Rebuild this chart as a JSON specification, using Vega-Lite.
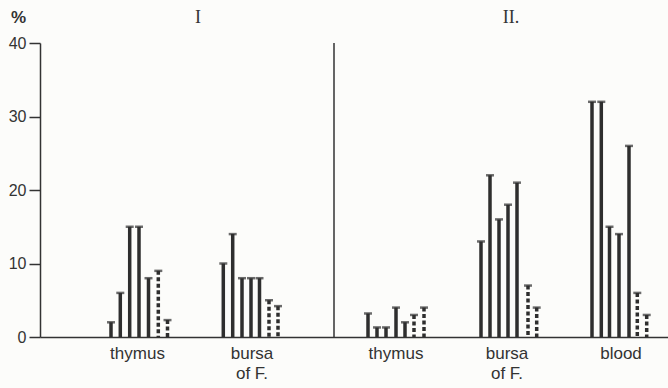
{
  "$schema": "https://vega.github.io/schema/vega-lite/v6.json",
  "width": 628,
  "height": 294,
  "autosize": "none",
  "padding": {"left": 40, "top": 43, "right": 0, "bottom": 51},
  "background": "#fcfcfa",
  "config": {
    "view": {"stroke": null},
    "font": "Liberation Sans"
  },
  "datasets": {
    "bars": [
      {"group": "thymus I", "pos": 71, "value": 2, "style": "solid"},
      {"group": "thymus I", "pos": 80.3, "value": 6, "style": "solid"},
      {"group": "thymus I", "pos": 89.7, "value": 15, "style": "solid"},
      {"group": "thymus I", "pos": 99, "value": 15, "style": "solid"},
      {"group": "thymus I", "pos": 108.5, "value": 8, "style": "solid"},
      {"group": "thymus I", "pos": 118.3, "value": 9, "style": "dashed"},
      {"group": "thymus I", "pos": 127.5, "value": 2.3, "style": "dashed"},
      {"group": "bursa I", "pos": 183.3, "value": 10, "style": "solid"},
      {"group": "bursa I", "pos": 192.7, "value": 14, "style": "solid"},
      {"group": "bursa I", "pos": 202, "value": 8, "style": "solid"},
      {"group": "bursa I", "pos": 211, "value": 8, "style": "solid"},
      {"group": "bursa I", "pos": 219.5, "value": 8, "style": "solid"},
      {"group": "bursa I", "pos": 229, "value": 5, "style": "dashed"},
      {"group": "bursa I", "pos": 238, "value": 4.2, "style": "dashed"},
      {"group": "thymus II", "pos": 328, "value": 3.2, "style": "solid"},
      {"group": "thymus II", "pos": 337, "value": 1.3, "style": "solid"},
      {"group": "thymus II", "pos": 346, "value": 1.3, "style": "solid"},
      {"group": "thymus II", "pos": 356, "value": 4, "style": "solid"},
      {"group": "thymus II", "pos": 365, "value": 2, "style": "solid"},
      {"group": "thymus II", "pos": 374, "value": 3, "style": "dashed"},
      {"group": "thymus II", "pos": 384, "value": 4, "style": "dashed"},
      {"group": "bursa II", "pos": 441, "value": 13, "style": "solid"},
      {"group": "bursa II", "pos": 450, "value": 22, "style": "solid"},
      {"group": "bursa II", "pos": 459, "value": 16, "style": "solid"},
      {"group": "bursa II", "pos": 468, "value": 18, "style": "solid"},
      {"group": "bursa II", "pos": 477, "value": 21, "style": "solid"},
      {"group": "bursa II", "pos": 488, "value": 7, "style": "dashed"},
      {"group": "bursa II", "pos": 496.7, "value": 4, "style": "dashed"},
      {"group": "blood II", "pos": 552, "value": 32, "style": "solid"},
      {"group": "blood II", "pos": 561.3, "value": 32, "style": "solid"},
      {"group": "blood II", "pos": 569.5, "value": 15, "style": "solid"},
      {"group": "blood II", "pos": 579, "value": 14, "style": "solid"},
      {"group": "blood II", "pos": 589, "value": 26, "style": "solid"},
      {"group": "blood II", "pos": 597.3, "value": 6, "style": "dashed"},
      {"group": "blood II", "pos": 606.7, "value": 3, "style": "dashed"}
    ],
    "labels": [
      {"pos": 97.5, "label": "thymus"},
      {"pos": 212, "label": "bursa\nof F."},
      {"pos": 356, "label": "thymus"},
      {"pos": 467, "label": "bursa\nof F."},
      {"pos": 581, "label": "blood"}
    ],
    "headers": [
      {"pos": 158, "y": 42.7, "label": "I"},
      {"pos": 471, "y": 42.7, "label": "II."}
    ],
    "divider": [
      {"pos": 294, "top": 40, "bottom": 0}
    ]
  },
  "layer": [
    {
      "data": {"name": "bars"},
      "mark": {"type": "rule", "color": "#2e2e2e", "strokeWidth": 3.5},
      "encoding": {
        "x": {"field": "pos", "type": "quantitative", "scale": {"domain": [0, 628], "nice": false, "zero": false},
              "axis": {"labels": false, "ticks": false, "title": null, "grid": false, "domainColor": "#333", "domainWidth": 1.5}},
        "y": {"field": "value", "type": "quantitative", "scale": {"domain": [0, 40], "nice": false},
              "axis": {"values": [0, 10, 20, 30, 40], "grid": false, "tickSize": 11, "tickWidth": 1.5, "tickColor": "#333",
                       "domainColor": "#333", "domainWidth": 1.5, "labelPadding": 3, "labelFontSize": 16,
                       "labelColor": "#333", "labelFont": "Liberation Sans",
                       "title": "%", "titleAngle": 0, "titleX": -22, "titleY": -21, "titleAlign": "center",
                       "titleBaseline": "alphabetic", "titleFontSize": 17, "titleFontWeight": "bold", "titleColor": "#333"}},
        "y2": {"datum": 0},
        "strokeDash": {"field": "style", "type": "nominal",
                       "scale": {"domain": ["solid", "dashed"], "range": [[1, 0], [4, 2.5]]}, "legend": null}
      }
    },
    {
      "data": {"name": "bars"},
      "mark": {"type": "tick", "orient": "horizontal", "color": "#2e2e2e", "size": 8, "thickness": 2.5},
      "encoding": {
        "x": {"field": "pos", "type": "quantitative"},
        "y": {"field": "value", "type": "quantitative"}
      }
    },
    {
      "data": {"name": "divider"},
      "mark": {"type": "rule", "color": "#333", "strokeWidth": 1.5},
      "encoding": {
        "x": {"field": "pos", "type": "quantitative"},
        "y": {"field": "top", "type": "quantitative"},
        "y2": {"field": "bottom"}
      }
    },
    {
      "data": {"name": "labels"},
      "mark": {"type": "text", "baseline": "top", "align": "center", "dy": 9, "fontSize": 17,
               "letterSpacing": 0.6, "lineBreak": "\n", "lineHeight": 20, "color": "#333", "font": "Liberation Sans"},
      "encoding": {
        "x": {"field": "pos", "type": "quantitative"},
        "y": {"datum": 0, "type": "quantitative"},
        "text": {"field": "label"}
      }
    },
    {
      "data": {"name": "headers"},
      "mark": {"type": "text", "baseline": "alphabetic", "align": "center", "fontSize": 18,
               "color": "#333", "font": "Liberation Serif"},
      "encoding": {
        "x": {"field": "pos", "type": "quantitative"},
        "y": {"field": "y", "type": "quantitative"},
        "text": {"field": "label"}
      }
    }
  ]
}
